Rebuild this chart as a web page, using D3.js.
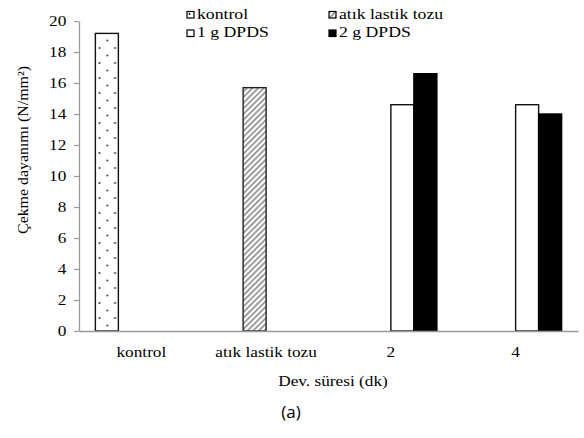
<!DOCTYPE html>
<html><head><meta charset="utf-8">
<script src="https://cdn.jsdelivr.net/npm/d3@7"></script>
<style>body{margin:0;background:#fff}</style>
</head><body>
<svg id="c" width="584" height="438"></svg>
<script>
const categories = ["kontrol", "atık lastik tozu", "2", "4"];
const seriesNames = ["kontrol", "atık lastik tozu", "1 g DPDS", "2 g DPDS"];
const kontrol = [19.2, 0, 0, 0];
const atik = [0, 15.7, 0, 0];
const dpds1 = [0, 0, 14.6, 14.6];
const dpds2 = [0, 0, 16.6, 14.0];
const yTicks = [0, 2, 4, 6, 8, 10, 12, 14, 16, 18, 20];
const seriesValues = [kontrol, atik, dpds1, dpds2];
const SERIF = "'Liberation Serif'";
const SX = 1.15;

const svg = d3.select("#c");
const defs = svg.append("defs");
const dots = defs.append("pattern").attr("id","dots").attr("patternUnits","userSpaceOnUse")
  .attr("width",15.6).attr("height",15).attr("x",96).attr("y",0);
dots.append("rect").attr("width",15.6).attr("height",15).attr("fill","#fff");
dots.append("circle").attr("cx",3.5).attr("cy",3).attr("r",1).attr("fill","#333");
dots.append("circle").attr("cx",11.3).attr("cy",10.5).attr("r",1).attr("fill","#333");
const hatch = defs.append("pattern").attr("id","hatch").attr("patternUnits","userSpaceOnUse")
  .attr("width",4).attr("height",4).attr("patternTransform","rotate(45)");
hatch.append("rect").attr("width",4).attr("height",4).attr("fill","#fff");
hatch.append("rect").attr("width",1.6).attr("height",4).attr("fill","#888");

const fills = ["url(#dots)", "url(#hatch)", "#fff", "#000"];
const strokes = ["#111", "#222", "#111", "#000"];

const m = {l:79, r:578, t:21, b:331};
const x0 = d3.scaleBand().domain(categories).range([m.l, m.r]).paddingInner(0).paddingOuter(0);
const groupW = 92;
const x1 = d3.scaleBand().domain(d3.range(4)).range([-groupW/2, groupW/2]);
const y = d3.scaleLinear().domain([0,20]).range([m.b, m.t]);

seriesValues.forEach((vals, si) => {
  svg.append("g").selectAll("rect").data(vals.map((v,i)=>({v, c:categories[i]})).filter(d=>d.v>0))
    .join("rect")
    .attr("x", d => x0(d.c) + x0.bandwidth()/2 + x1(si))
    .attr("y", d => y(d.v))
    .attr("width", x1.bandwidth())
    .attr("height", d => y(0) - y(d.v))
    .attr("fill", fills[si]).attr("stroke", strokes[si]).attr("stroke-width", 1.4);
});

const ya = svg.append("g").attr("transform",`translate(${m.l},0)`)
  .call(d3.axisLeft(y).tickValues(yTicks).tickSize(5).tickSizeOuter(0).tickPadding(6));
ya.select(".domain").attr("stroke","#999").attr("stroke-width",1.3);
ya.selectAll(".tick line").attr("stroke","#999").attr("stroke-width",1.2);
ya.selectAll("text").style("font-family",SERIF).style("font-size","15px").attr("fill","#000")
  .attr("transform",`scale(${SX},1)`);

const xa = svg.append("g").attr("transform",`translate(0,${m.b})`)
  .call(d3.axisBottom(x0).tickSize(0).tickSizeOuter(0).tickPadding(15));
xa.select(".domain").attr("stroke","#999").attr("stroke-width",1.6);
xa.selectAll("text").style("font-family",SERIF).style("font-size","15px").attr("fill","#000")
  .attr("transform",`scale(${SX},1)`);

svg.append("text").attr("transform","translate(28,150) rotate(-90) scale(1.06,1)").attr("text-anchor","middle")
  .style("font-family",SERIF).style("font-size","15px").text("Çekme dayanımı (N/mm²)");
svg.append("text").attr("transform",`translate(333,386) scale(${SX},1)`).attr("text-anchor","middle")
  .style("font-family",SERIF).style("font-size","15px").text("Dev. süresi (dk)");
svg.append("text").attr("x",291).attr("y",418).attr("text-anchor","middle")
  .style("font-family","'Open Sans'").style("font-size","17px").text("(a)");

const legPos = [[187,11.5],[329,11.5],[187,30],[329,30]];
seriesNames.forEach((n,i)=>{
  const g = svg.append("g").attr("transform",`translate(${legPos[i][0]},${legPos[i][1]})`);
  g.append("rect").attr("width",7).attr("height",6.5).attr("fill", i==0?"#fff":fills[i]).attr("stroke","#000").attr("stroke-width",1.2);
  if(i==0) g.append("circle").attr("cx",2.5).attr("cy",2.5).attr("r",0.9).attr("fill","#000");
  g.append("text").attr("transform",`translate(10,7) scale(1.18,1)`).style("font-family",SERIF).style("font-size","15px").text(n);
});
</script>
</body></html>
